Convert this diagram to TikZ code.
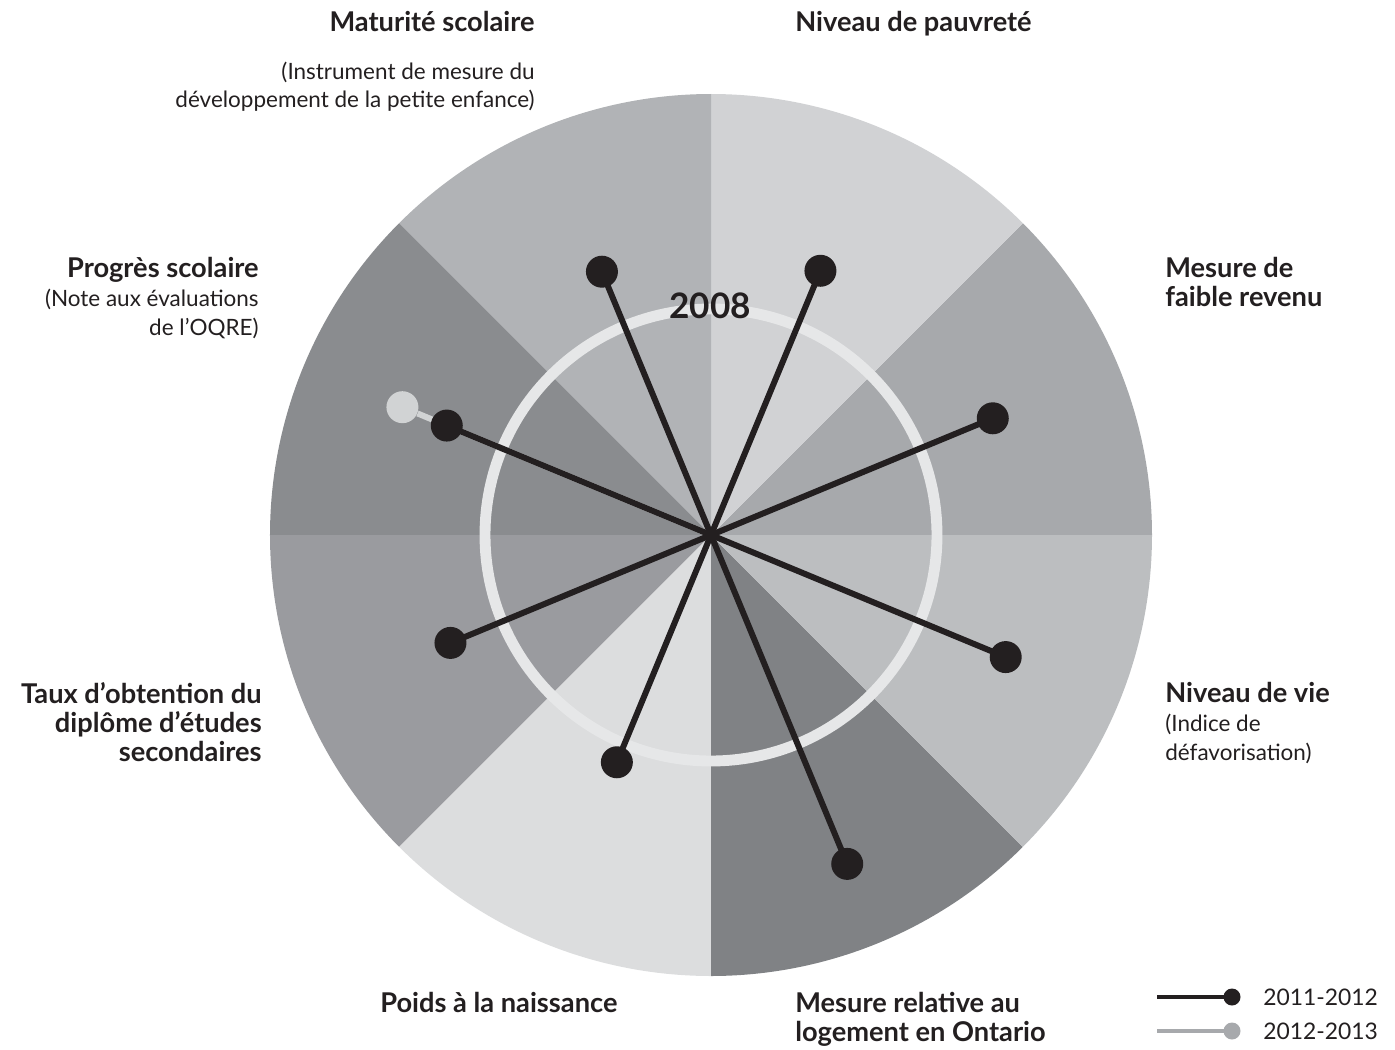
\documentclass[tikz,border=0pt]{standalone}
\usepackage{fontspec}
\setmainfont{Lato}
\definecolor{ink}{HTML}{231F20}
\definecolor{ringgray}{HTML}{E6E7E8}
\definecolor{newgray}{HTML}{D1D3D4}
\definecolor{keygray}{HTML}{A7A9AC}
\definecolor{secRevenu}{HTML}{A7A9AC}
\definecolor{secPauvrete}{HTML}{D1D2D4}
\definecolor{secMaturite}{HTML}{B1B3B6}
\definecolor{secProgres}{HTML}{8A8C8F}
\definecolor{secTaux}{HTML}{9A9B9F}
\definecolor{secPoids}{HTML}{DCDDDE}
\definecolor{secLogement}{HTML}{808285}
\definecolor{secVie}{HTML}{BCBEC0}
\newcommand\remarkfont{\fontsize{12.8}{16.5}\selectfont\mdseries}
\tikzset{
    heading/.style = {font=\fontsize{15.5}{16.5}\selectfont\bfseries, text=ink, inner sep=0pt},
    remark/.style = {font=\remarkfont, text=ink, inner sep=0pt},
    dot/.style = {circle, fill=ink, inner sep=0pt, minimum size=0.64cm},
    newdot/.style = {dot, fill=newgray},
    spoke/.style = {draw=ink, line width=3.4pt},
    newspoke/.style = {draw=newgray, line width=3.4pt},
    keydot/.style = {circle, fill=ink, inner sep=0pt, minimum size=0.34cm},
    keyline/.style = {draw=ink, line width=2pt}
}

\begin{document}
\begin{tikzpicture}[x=0.02cm, y=0.02cm]
    \useasboundingbox (-711,-514) rectangle (684,535);
    \coordinate (c) at (0,0);
    % the eight sectors
    \foreach \a/\col in {0/secRevenu, 45/secPauvrete, 90/secMaturite, 135/secProgres,
                         180/secTaux, 225/secPoids, 270/secLogement, 315/secVie}
        \fill[\col] (c) -- (\a:441) arc[start angle=\a, end angle=\a+45, radius=441] -- cycle;
    % 2008 ring
    \draw[ringgray, line width=6.2pt] (c) circle[radius=226];
    \node[heading, font=\fontsize{20}{24}\selectfont\bfseries] (year) at (-1,229) {2008};

    % 2012-2013 value
    \node[newdot] (gProgres) at (157.5:334) {};
    \draw[newspoke] (c) -- (gProgres);

    % 2011-2012 values
    \node[dot] (dRevenu) at (22.5:305) {};
    \node[dot] (dPauvrete) at (67.5:286) {};
    \node[dot] (dMaturite) at (112.5:285) {};
    \node[dot] (dProgres) at (157.5:286) {};
    \node[dot] (dTaux) at (202.5:282) {};
    \node[dot] (dPoids) at (247.5:246) {};
    \node[dot] (dLogement) at (292.5:356) {};
    \node[dot] (dVie) at (337.5:319) {};
    \foreach \d in {dRevenu, dPauvrete, dMaturite, dProgres, dTaux, dPoids, dLogement, dVie}
        \draw[spoke] (c) -- (\d.center);

    % labels (base = last line)
    \node[heading, anchor=base east] (tMaturite) at (-176,503) {Maturité scolaire};
    \node[remark, anchor=base east, align=right] (sMaturite) at (-176,427)
        {(Instrument de mesure du\\développement de la petite enfance)};
    \node[heading, anchor=base west] (tPauvrete) at (84,503) {Niveau de pauvreté};
    \node[heading, anchor=base west, align=left] (tRevenu) at (454,229) {Mesure de\\faible revenu};
    \node[heading, anchor=base east, align=right] (tProgres) at (-452,200)
        {Progrès scolaire\\\remarkfont(Note aux évaluations\\\remarkfont de l’OQRE)};
    \node[heading, anchor=base west, align=left] (tVie) at (454,-225)
        {Niveau de vie\\\remarkfont(Indice de\\\remarkfont défavorisation)};
    \node[heading, anchor=base east, align=right] (tTaux) at (-449,-226)
        {Taux d’obtention du\\diplôme d’études\\secondaires};
    \node[heading, anchor=base west] (tPoids) at (-331,-477) {Poids à la naissance};
    \node[heading, anchor=base west, align=left] (tLogement) at (84,-506)
        {Mesure relative au\\logement en Ontario};

    % legend
    \coordinate (kA) at (446,-462);
    \node[keydot] (kAdot) at (521,-462) {};
    \draw[keyline] (kA) -- (kAdot.center);
    \node[remark, font=\fontsize{13}{16}\selectfont, anchor=west] (kAtext) at (552,-462) {2011-2012};
    \coordinate (kB) at (446,-496);
    \node[keydot, fill=keygray] (kBdot) at (521,-496) {};
    \draw[keyline, draw=keygray] (kB) -- (kBdot.center);
    \node[remark, font=\fontsize{13}{16}\selectfont, anchor=west] (kBtext) at (552,-496) {2012-2013};
\end{tikzpicture}
\end{document}
